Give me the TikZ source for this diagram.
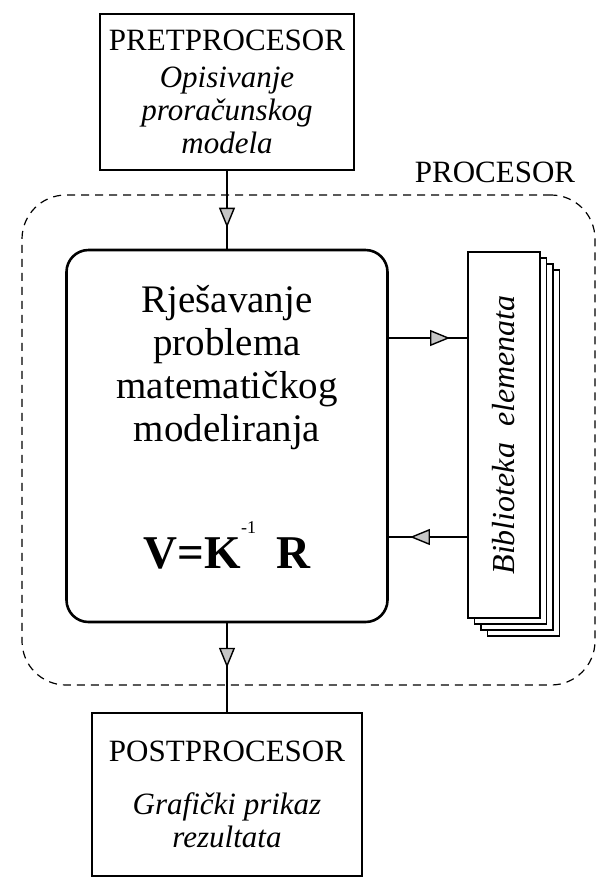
\documentclass[tikz,border=0pt]{standalone}
\usepackage{fontspec}
\setmainfont{Liberation Serif}
\usetikzlibrary{arrows.meta,decorations.markings}

\tikzset{
  stage/.style={draw, line width=0.8pt, align=center, inner sep=0pt},
  page/.style={draw, fill=white, line width=0.7pt, minimum width=36pt, minimum height=183pt, inner sep=0pt},
  flow/.style={line width=0.7pt, postaction={decorate},
    decoration={markings, mark=at position #1 with {\arrow{Triangle[length=10pt,width=8pt,fill=gray!45,line width=0.7pt]}}}}
}

\begin{document}
\begin{tikzpicture}
     [
     x=0.5pt, y=-0.5pt,
     every node/.style={font=\fontsize{15.5}{16.5}\selectfont}
     ]
     \useasboundingbox (0,0) rectangle (597,880);
     % processor frame
     \node[draw, dashed, dash pattern=on 4pt off 3pt, line width=0.6pt, rounded corners=22pt,
           minimum width=286.5pt, minimum height=245pt, inner sep=0pt] (frame) at (308.5,440) {};
     \node (proc) at (495,172) {PROCESOR};
     % stages
     \node[stage, minimum width=127pt, minimum height=78pt] (pre) at (227,92)
          {PRETPROCESOR\\[2pt]\textit{Opisivanje}\\\textit{proračunskog}\\\textit{modela}};
     \node[draw, line width=1.3pt, rounded corners=11pt, minimum width=160.5pt, minimum height=186pt] (solver) at (227,436) {};
     \node[align=center, font=\fontsize{19.5}{21.5}\selectfont] (task) at (227,368)
          {Rješavanje\\problema\\matematičkog\\modeliranja};
     \node[anchor=base, font=\fontsize{23.5}{23.5}\selectfont\bfseries] (eq) at (227,568)
          {V=K\raisebox{17.5pt}{\mdseries\fontsize{9}{9}\selectfont -1}\hspace{10pt}R};
     \node[stage, minimum width=135pt, minimum height=81.5pt] (post) at (227,794.5)
          {POSTPROCESOR\\[10pt]\textit{Grafički prikaz}\\\textit{rezultata}};
     % element library
     \foreach \k in {3,2,1}
          \node[page] (lib\k) at (504+6.5*\k,435+6*\k) {};
     \node[page] (lib) at (504,435) {};
     \node[rotate=90, font=\fontsize{16}{16}\selectfont\itshape] (libtext) at (lib.center) {Biblioteka\ \ elemenata};
     % connectors
     \draw[flow=0.73] (pre.south) -- (solver.north);
     \draw[flow=0.5] (solver.south) -- (post.north);
     \draw[flow=0.78] ([yshift=49pt]solver.east) -- ([yshift=49pt]solver.east -| lib.west);
     \draw[flow=0.73] ([yshift=-50.5pt]solver.east -| lib.west) -- ([yshift=-50.5pt]solver.east);
\end{tikzpicture}
\end{document}
